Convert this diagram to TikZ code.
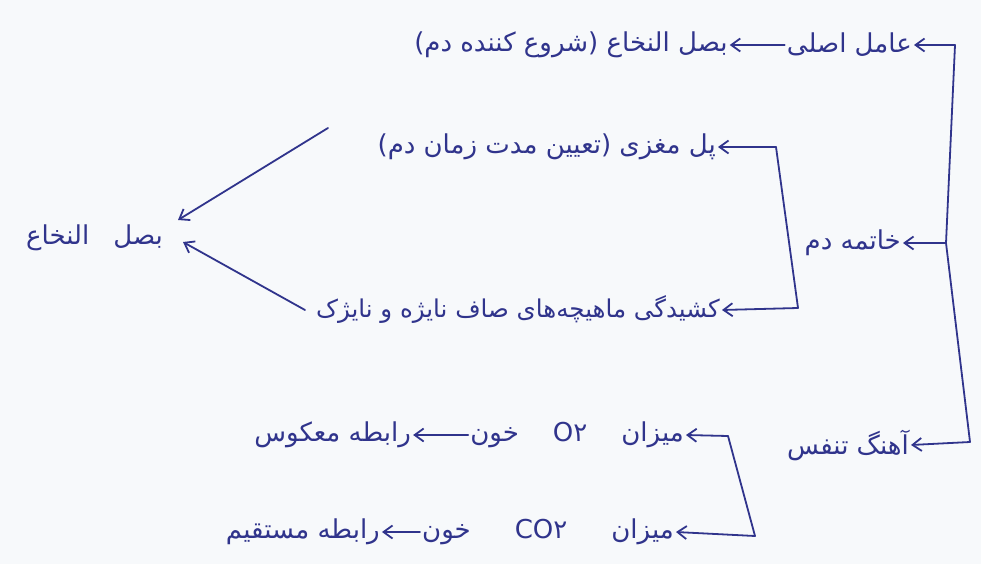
\documentclass[tikz,border=0pt]{standalone}
\usepackage{fontspec}
\newfontfamily\fa[Script=Arabic]{DejaVu Sans}
\TeXXeTstate=1
\usetikzlibrary{arrows.meta,calc}
\definecolor{inkc}{RGB}{48,52,140}
\definecolor{bgc}{RGB}{247,249,251}
\newcommand{\gapa}{\hspace{34pt}}
\newcommand{\gapb}{\hspace{44pt}}
\begin{document}
\begin{tikzpicture}[x=1pt,y=-1pt,
  ink/.style={draw=inkc, line width=1.8pt, line cap=round, line join=round},
  arr/.style={ink, -{Straight Barb[length=9pt,width=13pt]}},
  lbl/.style={text=inkc, font=\fa\fontsize{26}{30}\selectfont, inner sep=2pt}]
\fill[bgc] (0,0) rectangle (981,564);
\useasboundingbox (0,0) rectangle (981,564);

\node[lbl, anchor=east] (main) at (914,45) {\beginR عامل اصلی\endR};
\node[lbl, anchor=east] (med1) at ($(main.west)+(-55,0)$) {\beginR بصل النخاع (شروع کننده دم)\endR};
\node[lbl, anchor=east] (pons) at (718,147) {\beginR پل مغزی (تعیین مدت زمان دم)\endR};
\node[lbl, anchor=east] (med2) at (165,238) {\beginR بصل\hspace{24pt}النخاع\endR};
\node[lbl, anchor=east] (end) at (903,243) {\beginR خاتمه دم\endR};
\node[lbl, anchor=east, font=\fa\fontsize{24.5}{30}\selectfont] (str) at (722,310) {\beginR کشیدگی ماهیچه‌های صاف نایژه و نایژک\endR};
\node[lbl, anchor=east] (rate) at (911,445) {\beginR آهنگ تنفس\endR};
\node[lbl, anchor=east] (o2) at (686,435) {\beginR میزان\gapa\beginL O۲\endL\gapa{}خون\endR};
\node[lbl, anchor=east] (inv) at ($(o2.west)+(-55,0)$) {\beginR رابطه معکوس\endR};
\node[lbl, anchor=east] (co2) at (676,532) {\beginR میزان\gapb\beginL CO۲\endL\gapb{}خون\endR};
\node[lbl, anchor=east] (dir) at ($(co2.west)+(-38,0)$) {\beginR رابطه مستقیم\endR};

% outer bracket
\coordinate (ot) at (955,45);
\coordinate (om) at (946,243);
\coordinate (ob) at (970,442);
\draw[ink] (ot) -- (om) -- (ob);
\draw[arr] (ot) -- (main.east);
\draw[arr] (om) -- (end.east);
\draw[arr] (ob) -- (rate.east);
\draw[arr] (main.west) -- (med1.east);

% inner bracket
\coordinate (it) at (776,147);
\coordinate (ib) at (798,308);
\draw[ink] (it) -- (ib);
\draw[arr] (it) -- (pons.east);
\draw[arr] (ib) -- (str.east);

% to medulla
\coordinate (p1) at (328,128);
\coordinate (p2) at (305,310);
\draw[arr] (p1) -- ($(med2.east)+(13,-18)$);
\draw[arr] (p2) -- ($(med2.east)+(18,4)$);

% lower bracket
\coordinate (lt) at (728,436);
\coordinate (lb) at (755,536);
\draw[ink] (lt) -- (lb);
\draw[arr] (lt) -- (o2.east);
\draw[arr] (lb) -- (co2.east);
\draw[arr] (o2.west) -- (inv.east);
\draw[arr] (co2.west) -- (dir.east);
\end{tikzpicture}
\end{document}
